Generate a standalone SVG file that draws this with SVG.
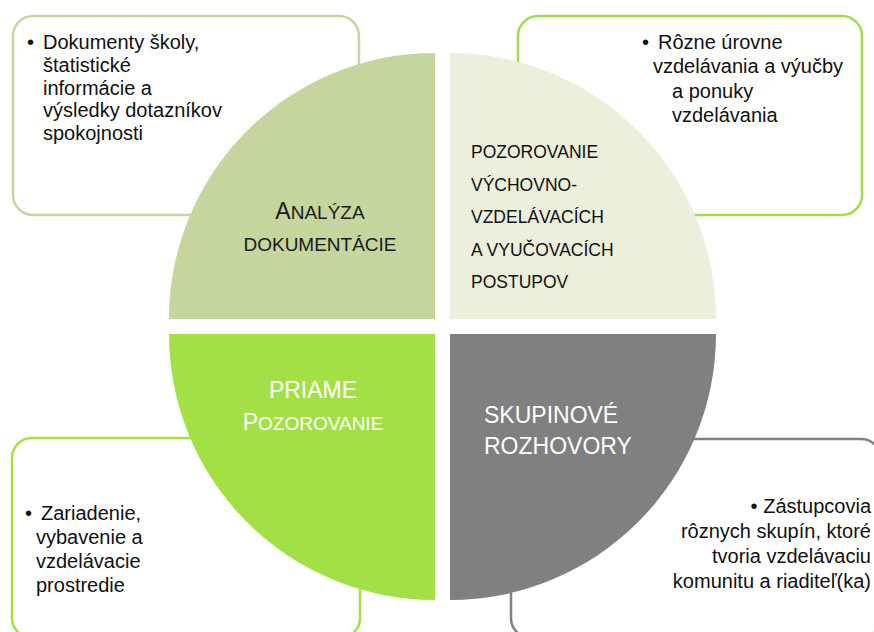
<svg xmlns="http://www.w3.org/2000/svg" width="874" height="632" viewBox="0 0 874 632">
<style>
text{font-family:"Liberation Sans",Arial,sans-serif;}
.box{fill:#ffffff;stroke-width:2.5;}
.bt{font-size:20px;fill:#111111;}
.q{font-size:17.5px;fill:#111111;}
.w{fill:#ffffff;}
.k{fill:#1a1a1a;}
</style>
<rect width="874" height="632" fill="#ffffff"/>
<g id="box-tl">
<rect class="box" x="13" y="16" width="346" height="199" rx="20" stroke="#c4d59e"/>
<text class="bt"><tspan x="27" y="49">•</tspan><tspan x="43" y="49">Dokumenty školy,</tspan><tspan x="43" y="72">štatistické</tspan><tspan x="43" y="95">informácie a</tspan><tspan x="43" y="117">výsledky dotazníkov</tspan><tspan x="43" y="140">spokojnosti</tspan></text>
</g>
<g id="box-tr">
<rect class="box" x="518" y="16" width="344" height="199" rx="20" stroke="#a0de48"/>
<text class="bt"><tspan x="642" y="49">•</tspan><tspan x="658" y="49">Rôzne úrovne</tspan><tspan x="653" y="73">vzdelávania a výučby</tspan><tspan x="672" y="98">a ponuky</tspan><tspan x="672" y="122">vzdelávania</tspan></text>
</g>
<g id="box-bl">
<rect class="box" x="12" y="438" width="348" height="200" rx="20" stroke="#a3e045"/>
<text class="bt"><tspan x="25" y="520">•</tspan><tspan x="41" y="520">Zariadenie,</tspan><tspan x="36" y="544">vybavenie a</tspan><tspan x="36" y="568">vzdelávacie</tspan><tspan x="36" y="592">prostredie</tspan></text>
</g>
<g id="box-br">
<rect class="box" x="511" y="439" width="370" height="199" rx="20" stroke="#808080"/>
<text class="bt" text-anchor="end"><tspan x="871" y="513">• Zástupcovia</tspan><tspan x="871" y="538">rôznych skupín, ktoré</tspan><tspan x="871" y="563">tvoria vzdelávaciu</tspan><tspan x="871" y="588">komunitu a riaditeľ(ka)</tspan></text>
</g>
<g id="q-analyza">
<path d="M435,319 L169,319 A266,266 0 0 1 435,53 Z" fill="#c4d59e"/>
<text x="320" y="219" text-anchor="middle" class="k"><tspan font-size="23">A</tspan><tspan font-size="19">NALÝZA</tspan></text>
<text x="320" y="251" text-anchor="middle" class="k" font-size="19">DOKUMENTÁCIE</text>
</g>
<g id="q-pozorovanie">
<path d="M450,319 L450,53 A266,266 0 0 1 716,319 Z" fill="#ebefdc"/>
<text class="q"><tspan x="471" y="158">POZOROVANIE</tspan><tspan x="471" y="191">VÝCHOVNO-</tspan><tspan x="471" y="223">VZDELÁVACÍCH</tspan><tspan x="471" y="256">A VYUČOVACÍCH</tspan><tspan x="471" y="288">POSTUPOV</tspan></text>
</g>
<g id="q-priame">
<path d="M435,334 L435,600 A266,266 0 0 1 169,334 Z" fill="#a3e045"/>
<text x="313" y="398" text-anchor="middle" class="w" font-size="23">PRIAME</text>
<text x="313" y="430" text-anchor="middle" class="w"><tspan font-size="23">P</tspan><tspan font-size="19">OZOROVANIE</tspan></text>
</g>
<g id="q-skupinove">
<path d="M450,334 L716,334 A266,266 0 0 1 450,600 Z" fill="#808080"/>
<text class="w" font-size="23"><tspan x="484" y="423">SKUPINOVÉ</tspan><tspan x="484" y="454">ROZHOVORY</tspan></text>
</g>
<g id="connectors"></g>
</svg>
